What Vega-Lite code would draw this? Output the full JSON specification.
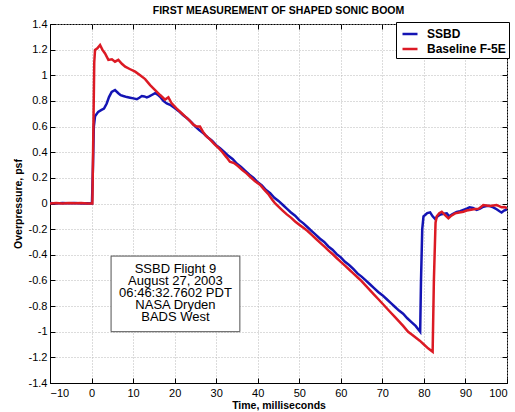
{
  "$schema": "https://vega.github.io/schema/vega-lite/v6.json",
  "width": 457,
  "height": 359,
  "autosize": {"type": "none"},
  "padding": {"left": 50, "top": 24, "right": 8, "bottom": 29},
  "background": "white",
  "title": {"text": "FIRST MEASUREMENT OF SHAPED SONIC BOOM", "font": "Liberation Sans", "fontSize": 10.5, "fontWeight": "bold", "color": "black", "anchor": "middle", "offset": 7, "baseline": "bottom", "dy": 15},
  "config": {
    "view": {"stroke": "black", "strokeWidth": 1},
    "axis": {
      "labelFont": "Liberation Sans", "labelFontSize": 11, "labelColor": "black",
      "titleFont": "Liberation Sans", "titleFontSize": 10.5, "titleFontWeight": "bold", "titleColor": "black",
      "domainColor": "black", "tickColor": "black", "tickSize": -5,
      "gridColor": "#b8b8b8", "gridDash": [1, 2], "gridWidth": 1
    },
    "legend": {
      "orient": "none", "legendX": 346, "legendY": -2,
      "strokeColor": "black", "fillColor": "white", "padding": 3,
      "symbolType": "stroke", "symbolSize": 225, "symbolStrokeWidth": 2.5,
      "labelFont": "Liberation Sans", "labelFontSize": 12, "labelFontWeight": "bold", "labelColor": "black",
      "rowPadding": -5, "symbolOffset": 2, "labelOffset": 8
    }
  },
  "layer": [
    {
      "data": {"values": [
        {"series": "SSBD", "t": -10, "p": 0.003}, {"series": "SSBD", "t": -8.5, "p": 0.0}, {"series": "SSBD", "t": -7, "p": 0.004}, {"series": "SSBD", "t": -5.5, "p": 0.001}, {"series": "SSBD", "t": -4, "p": 0.003}, {"series": "SSBD", "t": -2.5, "p": 0.0}, {"series": "SSBD", "t": -1, "p": 0.002}, {"series": "SSBD", "t": 0.1, "p": 0.0},
        {"series": "SSBD", "t": 0.35, "p": 0.3}, {"series": "SSBD", "t": 0.55, "p": 0.6}, {"series": "SSBD", "t": 0.84, "p": 0.68}, {"series": "SSBD", "t": 1.6, "p": 0.715}, {"series": "SSBD", "t": 2.4, "p": 0.73}, {"series": "SSBD", "t": 3.0, "p": 0.74}, {"series": "SSBD", "t": 3.65, "p": 0.78}, {"series": "SSBD", "t": 4.2, "p": 0.83}, {"series": "SSBD", "t": 4.85, "p": 0.87}, {"series": "SSBD", "t": 5.65, "p": 0.885}, {"series": "SSBD", "t": 6.45, "p": 0.86}, {"series": "SSBD", "t": 7.0, "p": 0.845}, {"series": "SSBD", "t": 7.65, "p": 0.838}, {"series": "SSBD", "t": 8.5, "p": 0.83}, {"series": "SSBD", "t": 9.3, "p": 0.825}, {"series": "SSBD", "t": 10.1, "p": 0.82}, {"series": "SSBD", "t": 10.9, "p": 0.813}, {"series": "SSBD", "t": 11.5, "p": 0.825}, {"series": "SSBD", "t": 12.1, "p": 0.838}, {"series": "SSBD", "t": 12.7, "p": 0.835}, {"series": "SSBD", "t": 13.3, "p": 0.828}, {"series": "SSBD", "t": 13.9, "p": 0.835}, {"series": "SSBD", "t": 14.5, "p": 0.846}, {"series": "SSBD", "t": 15.3, "p": 0.86}, {"series": "SSBD", "t": 15.9, "p": 0.85}, {"series": "SSBD", "t": 16.5, "p": 0.833}, {"series": "SSBD", "t": 17.3, "p": 0.8}, {"series": "SSBD", "t": 18.1, "p": 0.78}, {"series": "SSBD", "t": 18.9, "p": 0.77},
        {"series": "SSBD", "t": 20, "p": 0.745}, {"series": "SSBD", "t": 21, "p": 0.72}, {"series": "SSBD", "t": 22, "p": 0.69}, {"series": "SSBD", "t": 23, "p": 0.665}, {"series": "SSBD", "t": 24, "p": 0.635}, {"series": "SSBD", "t": 25, "p": 0.6}, {"series": "SSBD", "t": 26, "p": 0.57}, {"series": "SSBD", "t": 27, "p": 0.545}, {"series": "SSBD", "t": 28, "p": 0.515}, {"series": "SSBD", "t": 29, "p": 0.49}, {"series": "SSBD", "t": 30, "p": 0.455}, {"series": "SSBD", "t": 31, "p": 0.43}, {"series": "SSBD", "t": 32, "p": 0.4}, {"series": "SSBD", "t": 33, "p": 0.37}, {"series": "SSBD", "t": 34, "p": 0.345}, {"series": "SSBD", "t": 35, "p": 0.31}, {"series": "SSBD", "t": 36, "p": 0.285}, {"series": "SSBD", "t": 37, "p": 0.255}, {"series": "SSBD", "t": 38, "p": 0.225}, {"series": "SSBD", "t": 39, "p": 0.2}, {"series": "SSBD", "t": 40, "p": 0.165}, {"series": "SSBD", "t": 41, "p": 0.14}, {"series": "SSBD", "t": 42, "p": 0.105}, {"series": "SSBD", "t": 43, "p": 0.08}, {"series": "SSBD", "t": 44, "p": 0.045}, {"series": "SSBD", "t": 45, "p": 0.02}, {"series": "SSBD", "t": 46, "p": -0.01}, {"series": "SSBD", "t": 47, "p": -0.04}, {"series": "SSBD", "t": 48, "p": -0.07}, {"series": "SSBD", "t": 49, "p": -0.095}, {"series": "SSBD", "t": 50, "p": -0.13}, {"series": "SSBD", "t": 51, "p": -0.155}, {"series": "SSBD", "t": 52, "p": -0.185}, {"series": "SSBD", "t": 53, "p": -0.215}, {"series": "SSBD", "t": 54, "p": -0.245}, {"series": "SSBD", "t": 55, "p": -0.275}, {"series": "SSBD", "t": 56, "p": -0.3}, {"series": "SSBD", "t": 57, "p": -0.335}, {"series": "SSBD", "t": 58, "p": -0.36}, {"series": "SSBD", "t": 59, "p": -0.395}, {"series": "SSBD", "t": 60, "p": -0.42}, {"series": "SSBD", "t": 61, "p": -0.455}, {"series": "SSBD", "t": 62, "p": -0.48}, {"series": "SSBD", "t": 63, "p": -0.51}, {"series": "SSBD", "t": 64, "p": -0.545}, {"series": "SSBD", "t": 65, "p": -0.57}, {"series": "SSBD", "t": 66, "p": -0.6}, {"series": "SSBD", "t": 67, "p": -0.63}, {"series": "SSBD", "t": 68, "p": -0.66}, {"series": "SSBD", "t": 69, "p": -0.69}, {"series": "SSBD", "t": 70, "p": -0.715}, {"series": "SSBD", "t": 71, "p": -0.745}, {"series": "SSBD", "t": 72, "p": -0.775}, {"series": "SSBD", "t": 73, "p": -0.805}, {"series": "SSBD", "t": 74, "p": -0.835}, {"series": "SSBD", "t": 75, "p": -0.86}, {"series": "SSBD", "t": 76, "p": -0.895}, {"series": "SSBD", "t": 77, "p": -0.925}, {"series": "SSBD", "t": 78, "p": -0.955}, {"series": "SSBD", "t": 79.1, "p": -1.0},
        {"series": "SSBD", "t": 79.3, "p": -0.6}, {"series": "SSBD", "t": 79.6, "p": -0.2}, {"series": "SSBD", "t": 79.9, "p": -0.1}, {"series": "SSBD", "t": 80.3, "p": -0.09}, {"series": "SSBD", "t": 80.8, "p": -0.075}, {"series": "SSBD", "t": 81.5, "p": -0.069}, {"series": "SSBD", "t": 82.1, "p": -0.1}, {"series": "SSBD", "t": 82.7, "p": -0.12}, {"series": "SSBD", "t": 83.3, "p": -0.1}, {"series": "SSBD", "t": 84, "p": -0.085}, {"series": "SSBD", "t": 84.8, "p": -0.08}, {"series": "SSBD", "t": 85.5, "p": -0.077}, {"series": "SSBD", "t": 86.1, "p": -0.1}, {"series": "SSBD", "t": 86.8, "p": -0.085}, {"series": "SSBD", "t": 87.9, "p": -0.065}, {"series": "SSBD", "t": 88.7, "p": -0.06}, {"series": "SSBD", "t": 89.5, "p": -0.05}, {"series": "SSBD", "t": 90.3, "p": -0.04}, {"series": "SSBD", "t": 91, "p": -0.03}, {"series": "SSBD", "t": 91.8, "p": -0.035}, {"series": "SSBD", "t": 92.7, "p": -0.05}, {"series": "SSBD", "t": 93.5, "p": -0.04}, {"series": "SSBD", "t": 94.3, "p": -0.025}, {"series": "SSBD", "t": 95.1, "p": -0.02}, {"series": "SSBD", "t": 95.9, "p": -0.02}, {"series": "SSBD", "t": 96.7, "p": -0.03}, {"series": "SSBD", "t": 97.5, "p": -0.045}, {"series": "SSBD", "t": 98.2, "p": -0.06}, {"series": "SSBD", "t": 98.7, "p": -0.07}, {"series": "SSBD", "t": 99.3, "p": -0.055}, {"series": "SSBD", "t": 100, "p": -0.045},
        {"series": "Baseline F-5E", "t": -10, "p": 0.0}, {"series": "Baseline F-5E", "t": -8.5, "p": 0.003}, {"series": "Baseline F-5E", "t": -7, "p": 0.0}, {"series": "Baseline F-5E", "t": -5.5, "p": 0.003}, {"series": "Baseline F-5E", "t": -4, "p": 0.001}, {"series": "Baseline F-5E", "t": -2.5, "p": 0.003}, {"series": "Baseline F-5E", "t": -1, "p": 0.0}, {"series": "Baseline F-5E", "t": 0.2, "p": 0.0},
        {"series": "Baseline F-5E", "t": 0.45, "p": 0.6}, {"series": "Baseline F-5E", "t": 0.65, "p": 1.1}, {"series": "Baseline F-5E", "t": 0.84, "p": 1.197}, {"series": "Baseline F-5E", "t": 1.4, "p": 1.21}, {"series": "Baseline F-5E", "t": 2.05, "p": 1.236}, {"series": "Baseline F-5E", "t": 2.6, "p": 1.2}, {"series": "Baseline F-5E", "t": 3.25, "p": 1.17}, {"series": "Baseline F-5E", "t": 4.05, "p": 1.12}, {"series": "Baseline F-5E", "t": 4.9, "p": 1.125}, {"series": "Baseline F-5E", "t": 5.65, "p": 1.106}, {"series": "Baseline F-5E", "t": 6.45, "p": 1.12}, {"series": "Baseline F-5E", "t": 7.3, "p": 1.09}, {"series": "Baseline F-5E", "t": 8.1, "p": 1.067}, {"series": "Baseline F-5E", "t": 9.3, "p": 1.047}, {"series": "Baseline F-5E", "t": 10.5, "p": 1.028}, {"series": "Baseline F-5E", "t": 11.7, "p": 1.0}, {"series": "Baseline F-5E", "t": 12.9, "p": 0.97}, {"series": "Baseline F-5E", "t": 14.1, "p": 0.924}, {"series": "Baseline F-5E", "t": 15.3, "p": 0.885}, {"series": "Baseline F-5E", "t": 16.5, "p": 0.846}, {"series": "Baseline F-5E", "t": 17.7, "p": 0.81}, {"series": "Baseline F-5E", "t": 18.5, "p": 0.828}, {"series": "Baseline F-5E", "t": 19.3, "p": 0.78}, {"series": "Baseline F-5E", "t": 20.5, "p": 0.74}, {"series": "Baseline F-5E", "t": 21.5, "p": 0.71}, {"series": "Baseline F-5E", "t": 22.5, "p": 0.68}, {"series": "Baseline F-5E", "t": 23.5, "p": 0.65}, {"series": "Baseline F-5E", "t": 24.5, "p": 0.615}, {"series": "Baseline F-5E", "t": 25.3, "p": 0.6}, {"series": "Baseline F-5E", "t": 26.1, "p": 0.6}, {"series": "Baseline F-5E", "t": 26.8, "p": 0.56}, {"series": "Baseline F-5E", "t": 27.5, "p": 0.53}, {"series": "Baseline F-5E", "t": 28.5, "p": 0.5}, {"series": "Baseline F-5E", "t": 29.5, "p": 0.465}, {"series": "Baseline F-5E", "t": 30.5, "p": 0.435}, {"series": "Baseline F-5E", "t": 31.5, "p": 0.4}, {"series": "Baseline F-5E", "t": 32.5, "p": 0.36}, {"series": "Baseline F-5E", "t": 33.3, "p": 0.326}, {"series": "Baseline F-5E", "t": 34.3, "p": 0.315}, {"series": "Baseline F-5E", "t": 35.3, "p": 0.29}, {"series": "Baseline F-5E", "t": 36.3, "p": 0.26}, {"series": "Baseline F-5E", "t": 37.3, "p": 0.235}, {"series": "Baseline F-5E", "t": 38.3, "p": 0.205}, {"series": "Baseline F-5E", "t": 39.3, "p": 0.175}, {"series": "Baseline F-5E", "t": 40.6, "p": 0.144}, {"series": "Baseline F-5E", "t": 41.5, "p": 0.11}, {"series": "Baseline F-5E", "t": 42.5, "p": 0.075}, {"series": "Baseline F-5E", "t": 43.5, "p": 0.03}, {"series": "Baseline F-5E", "t": 44.2, "p": 0.0}, {"series": "Baseline F-5E", "t": 45, "p": -0.025}, {"series": "Baseline F-5E", "t": 46, "p": -0.055}, {"series": "Baseline F-5E", "t": 47, "p": -0.085}, {"series": "Baseline F-5E", "t": 48, "p": -0.11}, {"series": "Baseline F-5E", "t": 49, "p": -0.14}, {"series": "Baseline F-5E", "t": 50, "p": -0.165}, {"series": "Baseline F-5E", "t": 51, "p": -0.19}, {"series": "Baseline F-5E", "t": 52, "p": -0.215}, {"series": "Baseline F-5E", "t": 53, "p": -0.245}, {"series": "Baseline F-5E", "t": 54, "p": -0.275}, {"series": "Baseline F-5E", "t": 55, "p": -0.305}, {"series": "Baseline F-5E", "t": 56, "p": -0.335}, {"series": "Baseline F-5E", "t": 57, "p": -0.365}, {"series": "Baseline F-5E", "t": 58.2, "p": -0.4}, {"series": "Baseline F-5E", "t": 59, "p": -0.425}, {"series": "Baseline F-5E", "t": 60, "p": -0.455}, {"series": "Baseline F-5E", "t": 61, "p": -0.485}, {"series": "Baseline F-5E", "t": 62, "p": -0.515}, {"series": "Baseline F-5E", "t": 63, "p": -0.545}, {"series": "Baseline F-5E", "t": 64, "p": -0.575}, {"series": "Baseline F-5E", "t": 65, "p": -0.605}, {"series": "Baseline F-5E", "t": 66, "p": -0.64}, {"series": "Baseline F-5E", "t": 67, "p": -0.675}, {"series": "Baseline F-5E", "t": 68, "p": -0.71}, {"series": "Baseline F-5E", "t": 69, "p": -0.745}, {"series": "Baseline F-5E", "t": 70, "p": -0.78}, {"series": "Baseline F-5E", "t": 71, "p": -0.815}, {"series": "Baseline F-5E", "t": 72, "p": -0.85}, {"series": "Baseline F-5E", "t": 73, "p": -0.885}, {"series": "Baseline F-5E", "t": 74, "p": -0.92}, {"series": "Baseline F-5E", "t": 75, "p": -0.955}, {"series": "Baseline F-5E", "t": 76.2, "p": -1.0}, {"series": "Baseline F-5E", "t": 77, "p": -1.02}, {"series": "Baseline F-5E", "t": 78, "p": -1.045}, {"series": "Baseline F-5E", "t": 79, "p": -1.07}, {"series": "Baseline F-5E", "t": 80, "p": -1.1}, {"series": "Baseline F-5E", "t": 81, "p": -1.13}, {"series": "Baseline F-5E", "t": 82.1, "p": -1.156},
        {"series": "Baseline F-5E", "t": 82.4, "p": -0.6}, {"series": "Baseline F-5E", "t": 82.8, "p": -0.15}, {"series": "Baseline F-5E", "t": 83.1, "p": -0.1}, {"series": "Baseline F-5E", "t": 83.7, "p": -0.075}, {"series": "Baseline F-5E", "t": 84.3, "p": -0.064}, {"series": "Baseline F-5E", "t": 85.1, "p": -0.09}, {"series": "Baseline F-5E", "t": 85.9, "p": -0.116}, {"series": "Baseline F-5E", "t": 86.6, "p": -0.095}, {"series": "Baseline F-5E", "t": 87.5, "p": -0.077}, {"series": "Baseline F-5E", "t": 88.5, "p": -0.07}, {"series": "Baseline F-5E", "t": 89.5, "p": -0.064}, {"series": "Baseline F-5E", "t": 90.3, "p": -0.055}, {"series": "Baseline F-5E", "t": 91, "p": -0.05}, {"series": "Baseline F-5E", "t": 92, "p": -0.045}, {"series": "Baseline F-5E", "t": 93.2, "p": -0.04}, {"series": "Baseline F-5E", "t": 93.8, "p": -0.025}, {"series": "Baseline F-5E", "t": 94.3, "p": -0.012}, {"series": "Baseline F-5E", "t": 95.1, "p": -0.015}, {"series": "Baseline F-5E", "t": 95.9, "p": -0.02}, {"series": "Baseline F-5E", "t": 96.7, "p": -0.015}, {"series": "Baseline F-5E", "t": 97.5, "p": -0.012}, {"series": "Baseline F-5E", "t": 98.1, "p": -0.02}, {"series": "Baseline F-5E", "t": 98.7, "p": -0.03}, {"series": "Baseline F-5E", "t": 99.4, "p": -0.028}, {"series": "Baseline F-5E", "t": 100, "p": -0.035}
      ]},
      "mark": {"type": "line", "strokeWidth": 2.5, "clip": true},
      "encoding": {
        "x": {"field": "t", "type": "quantitative", "scale": {"domain": [-10, 100], "nice": false, "zero": false},
              "axis": {"title": "Time, milliseconds", "values": [-10, 0, 10, 20, 30, 40, 50, 60, 70, 80, 90, 100], "labelPadding": 9, "titlePadding": 2, "grid": true}},
        "y": {"field": "p", "type": "quantitative", "scale": {"domain": [-1.4, 1.4], "nice": false, "zero": false},
              "axis": {"title": "Overpressure, psf", "values": [-1.4, -1.2, -1, -0.8, -0.6, -0.4, -0.2, 0, 0.2, 0.4, 0.6, 0.8, 1, 1.2, 1.4], "labelExpr": "replace(format(datum.value, '~g'), '\u2212', '-')", "labelPadding": 8, "titlePadding": 5, "grid": true}},
        "color": {"field": "series", "type": "nominal", "scale": {"domain": ["SSBD", "Baseline F-5E"], "range": ["#1414b4", "#dc1a24"]}, "legend": {"title": null}},
        "order": {"field": "t", "type": "quantitative"}
      }
    },
    {
      "data": {"values": [{"label": "SSBD Flight 9\nAugust 27, 2003\n06:46:32.7602 PDT\nNASA Dryden\nBADS West"}]},
      "mark": {"type": "rect", "fill": "white", "stroke": "#505050", "strokeWidth": 1},
      "encoding": {
        "x": {"datum": 4.7, "type": "quantitative", "axis": {"orient": "top", "title": null, "labels": false, "grid": false, "domain": false, "values": [-10, 0, 10, 20, 30, 40, 50, 60, 70, 80, 90, 100]}},
        "x2": {"datum": 35.7},
        "y": {"datum": -0.41, "type": "quantitative", "axis": {"orient": "right", "title": null, "labels": false, "grid": false, "domain": false, "values": [-1.4, -1.2, -1, -0.8, -0.6, -0.4, -0.2, 0, 0.2, 0.4, 0.6, 0.8, 1, 1.2, 1.4]}},
        "y2": {"datum": -1.0}
      }
    },
    {
      "data": {"values": [{"label": "SSBD Flight 9\nAugust 27, 2003\n06:46:32.7602 PDT\nNASA Dryden\nBADS West"}]},
      "mark": {"type": "text", "lineBreak": "\n", "font": "Liberation Sans", "fontSize": 13, "lineHeight": 12, "align": "center", "baseline": "middle", "color": "black"},
      "encoding": {
        "x": {"datum": 20.2, "type": "quantitative", "axis": null},
        "y": {"datum": -0.51, "type": "quantitative", "axis": null},
        "text": {"field": "label", "type": "nominal"}
      }
    }
  ],
  "resolve": {"axis": {"x": "independent", "y": "independent"}}
}
